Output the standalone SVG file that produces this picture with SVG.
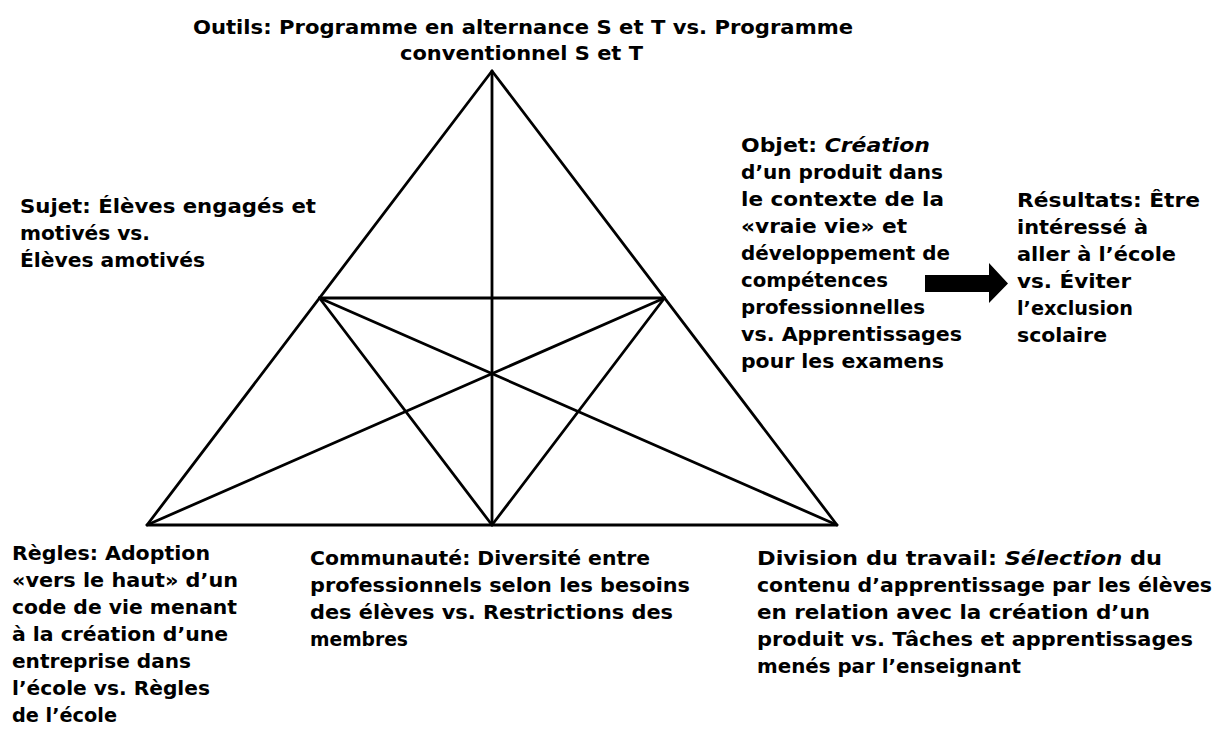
<svg xmlns="http://www.w3.org/2000/svg" width="1221" height="738" viewBox="0 0 1221 738">
  <style>
    .lbl { font-family: "Comic Sans MS", "DejaVu Sans", sans-serif; font-size: 20px; font-weight: bold; fill: #000; }
    .it { font-style: italic; }
    .edge { stroke: #000; stroke-width: 2.8; fill: none; stroke-linecap: round; stroke-linejoin: round; }
  </style>
  <rect width="1221" height="738" fill="#fff"/>

  <!-- activity triangle: outline plus inner mediators -->
  <g id="connectors">
    <polygon class="edge" points="492,71 147,525 837,525"/>
    <line class="edge" x1="492" y1="71" x2="492" y2="525"/>
    <line class="edge" x1="319.5" y1="298" x2="664.5" y2="298"/>
    <line class="edge" x1="319.5" y1="298" x2="837" y2="525"/>
    <line class="edge" x1="664.5" y1="298" x2="147" y2="525"/>
    <line class="edge" x1="319.5" y1="298" x2="492" y2="525"/>
    <line class="edge" x1="664.5" y1="298" x2="492" y2="525"/>
    <!-- block arrow towards outcomes -->
    <polygon points="925,275 989,275 989,263 1008,283.5 989,303 989,292 925,292" fill="#000"/>
  </g>

  <g id="outils" class="lbl">
    <text x="193" y="34" textLength="660" lengthAdjust="spacingAndGlyphs">Outils: Programme en alternance S et T vs. Programme</text>
    <text x="400" y="60" textLength="243" lengthAdjust="spacingAndGlyphs">conventionnel S et T</text>
  </g>

  <g id="sujet" class="lbl">
    <text x="20" y="213" textLength="296" lengthAdjust="spacingAndGlyphs">Sujet: Élèves engagés et</text>
    <text x="20" y="240" textLength="130" lengthAdjust="spacingAndGlyphs">motivés vs.</text>
    <text x="20" y="267" textLength="185" lengthAdjust="spacingAndGlyphs">Élèves amotivés</text>
  </g>

  <g id="objet" class="lbl">
    <text x="741" y="152" textLength="189" lengthAdjust="spacingAndGlyphs">Objet: <tspan class="it">Création</tspan></text>
    <text x="741" y="179" textLength="202" lengthAdjust="spacingAndGlyphs">d’un produit dans</text>
    <text x="741" y="206" textLength="203" lengthAdjust="spacingAndGlyphs">le contexte de la</text>
    <text x="741" y="233" textLength="166" lengthAdjust="spacingAndGlyphs">«vraie vie» et</text>
    <text x="741" y="260" textLength="209" lengthAdjust="spacingAndGlyphs">développement de</text>
    <text x="741" y="287" textLength="147" lengthAdjust="spacingAndGlyphs">compétences</text>
    <text x="741" y="314" textLength="184" lengthAdjust="spacingAndGlyphs">professionnelles</text>
    <text x="741" y="341" textLength="221" lengthAdjust="spacingAndGlyphs">vs. Apprentissages</text>
    <text x="741" y="368" textLength="203" lengthAdjust="spacingAndGlyphs">pour les examens</text>
  </g>

  <g id="resultats" class="lbl">
    <text x="1017" y="207" textLength="183" lengthAdjust="spacingAndGlyphs">Résultats: Être</text>
    <text x="1017" y="234" textLength="131" lengthAdjust="spacingAndGlyphs">intéressé à</text>
    <text x="1017" y="261" textLength="159" lengthAdjust="spacingAndGlyphs">aller à l’école</text>
    <text x="1017" y="288" textLength="114" lengthAdjust="spacingAndGlyphs">vs. Éviter</text>
    <text x="1017" y="315" textLength="116" lengthAdjust="spacingAndGlyphs">l’exclusion</text>
    <text x="1017" y="342" textLength="90" lengthAdjust="spacingAndGlyphs">scolaire</text>
  </g>

  <g id="regles" class="lbl">
    <text x="12" y="560" textLength="198" lengthAdjust="spacingAndGlyphs">Règles: Adoption</text>
    <text x="12" y="587" textLength="226" lengthAdjust="spacingAndGlyphs">«vers le haut» d’un</text>
    <text x="12" y="614" textLength="225" lengthAdjust="spacingAndGlyphs">code de vie menant</text>
    <text x="12" y="641" textLength="216" lengthAdjust="spacingAndGlyphs">à la création d’une</text>
    <text x="12" y="668" textLength="179" lengthAdjust="spacingAndGlyphs">entreprise dans</text>
    <text x="12" y="695" textLength="198" lengthAdjust="spacingAndGlyphs">l’école vs. Règles</text>
    <text x="12" y="722" textLength="105" lengthAdjust="spacingAndGlyphs">de l’école</text>
  </g>

  <g id="communaute" class="lbl">
    <text x="310" y="565" textLength="340" lengthAdjust="spacingAndGlyphs">Communauté: Diversité entre</text>
    <text x="310" y="592" textLength="380" lengthAdjust="spacingAndGlyphs">professionnels selon les besoins</text>
    <text x="310" y="619" textLength="363" lengthAdjust="spacingAndGlyphs">des élèves vs. Restrictions des</text>
    <text x="310" y="646" textLength="98" lengthAdjust="spacingAndGlyphs">membres</text>
  </g>

  <g id="division" class="lbl">
    <text x="757" y="565" textLength="405" lengthAdjust="spacingAndGlyphs">Division du travail: <tspan class="it">Sélection</tspan> du</text>
    <text x="757" y="592" textLength="455" lengthAdjust="spacingAndGlyphs">contenu d’apprentissage par les élèves</text>
    <text x="757" y="619" textLength="393" lengthAdjust="spacingAndGlyphs">en relation avec la création d’un</text>
    <text x="757" y="646" textLength="436" lengthAdjust="spacingAndGlyphs">produit vs. Tâches et apprentissages</text>
    <text x="757" y="673" textLength="264" lengthAdjust="spacingAndGlyphs">menés par l’enseignant</text>
  </g>
</svg>
